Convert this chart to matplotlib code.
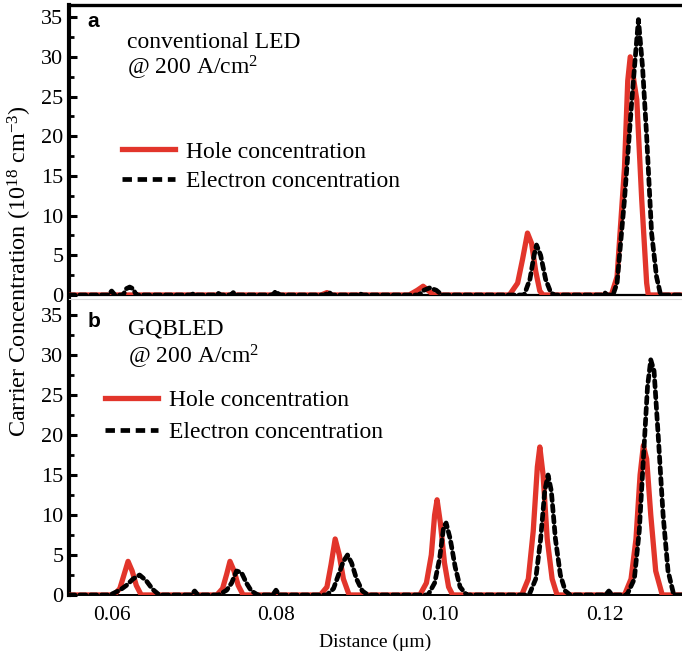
import matplotlib
matplotlib.use("Agg")
import matplotlib.pyplot as plt
from matplotlib.lines import Line2D
from matplotlib.ticker import MultipleLocator

plt.rcParams['font.family'] = ['Liberation Serif', 'DejaVu Serif']
plt.rcParams['mathtext.fontset'] = 'custom'
plt.rcParams['mathtext.rm'] = 'Liberation Serif'
plt.rcParams['mathtext.it'] = 'Liberation Serif:italic'

X_MIN, X_MAX = 0.0548, 0.1294

# (a) conventional LED
hole_a_x = [0.0548, 0.0855, 0.0862, 0.0868, 0.0962, 0.0972, 0.0979, 0.0986, 0.0992,
            0.1084, 0.1094, 0.1100, 0.1106, 0.1111, 0.1116, 0.1121, 0.1125,
            0.1208, 0.1215, 0.1224, 0.1228, 0.1231, 0.1239, 0.1245, 0.1251, 0.1253, 0.1294]
hole_a_y = [0, 0, 0.3, 0, 0, 0.6, 1.1, 0.5, 0,
            0, 1.5, 4.5, 7.8, 6.5, 3.0, 0.5, 0,
            0, 2.3, 16.0, 27.0, 30.0, 24.6, 12.0, 1.5, 0, 0]

elec_a_x = [0.0548, 0.0596, 0.0600, 0.0604, 0.0614, 0.0618, 0.0622, 0.0626, 0.0630,
            0.0697, 0.0700, 0.0703, 0.0727, 0.0730, 0.0733, 0.0745, 0.0748, 0.0751,
            0.0796, 0.0800, 0.0804, 0.0860, 0.0864, 0.0868, 0.0899, 0.0902, 0.0905,
            0.0974, 0.0980, 0.0987, 0.0995, 0.1002,
            0.1102, 0.1109, 0.1114, 0.1117, 0.1122, 0.1128, 0.1134, 0.1138,
            0.1197, 0.1200, 0.1203,
            0.1210, 0.1215, 0.1224, 0.1233, 0.1238, 0.1241, 0.1246, 0.1251, 0.1257,
            0.1263, 0.1268, 0.1294]
elec_a_y = [0, 0, 0.5, 0, 0, 0.8, 1.0, 0.8, 0,
            0, 0.2, 0, 0, 0.2, 0, 0, 0.3, 0,
            0, 0.5, 0, 0, 0.4, 0, 0, 0.2, 0,
            0, 0.6, 0.9, 0.6, 0,
            0, 2.0, 5.0, 6.3, 5.0, 2.0, 0.4, 0,
            0, 0.3, 0,
            0, 1.5, 12.0, 24.6, 31.0, 34.7, 28.7, 20.0, 7.8,
            2.3, 0, 0]

# (b) GQBLED
hole_b_x = [0.0548, 0.0603, 0.0610, 0.0615, 0.0620, 0.0625, 0.0630, 0.0636,
            0.0728, 0.0735, 0.0740, 0.0744, 0.0749, 0.0754, 0.0760,
            0.0854, 0.0862, 0.0867, 0.0872, 0.0877, 0.0882, 0.0889,
            0.0975, 0.0983, 0.0989, 0.0993, 0.0996, 0.1000, 0.1005, 0.1010, 0.1015,
            0.1099, 0.1107, 0.1113, 0.1118, 0.1121, 0.1125, 0.1130, 0.1136, 0.1142,
            0.1224, 0.1232, 0.1238, 0.1243, 0.1247, 0.1251, 0.1256, 0.1262, 0.1270,
            0.1294]
hole_b_y = [0, 0, 0.8, 2.5, 4.2, 3.0, 1.2, 0,
            0, 0.8, 2.6, 4.2, 3.0, 1.2, 0,
            0, 1.0, 3.8, 7.0, 5.0, 2.0, 0,
            0, 1.5, 5.0, 10.0, 11.9, 9.0, 4.0, 1.0, 0,
            0, 2.0, 8.0, 16.0, 18.5, 15.0, 7.0, 2.0, 0,
            0, 2.0, 7.0, 15.0, 18.7, 17.0, 10.0, 3.0, 0,
            0]

elec_b_x = [0.0548, 0.0598, 0.0610, 0.0618, 0.0626, 0.0634, 0.0642, 0.0650, 0.0658,
            0.0697, 0.0701, 0.0705,
            0.0730, 0.0740, 0.0746, 0.0752, 0.0758, 0.0764, 0.0770, 0.0778,
            0.0796, 0.0800, 0.0804,
            0.0862, 0.0870, 0.0876, 0.0882, 0.0887, 0.0892, 0.0898, 0.0905, 0.0912,
            0.0985, 0.0993, 0.0999, 0.1004, 0.1007, 0.1012, 0.1018, 0.1024, 0.1032,
            0.1108, 0.1116, 0.1122, 0.1127, 0.1131, 0.1135, 0.1140, 0.1146, 0.1152, 0.1158,
            0.1201, 0.1205, 0.1209,
            0.1227, 0.1236, 0.1242, 0.1247, 0.1252, 0.1256, 0.1260, 0.1265, 0.1271,
            0.1277, 0.1284, 0.1294]
elec_b_y = [0, 0, 0.6, 1.2, 2.0, 2.5, 1.8, 0.7, 0,
            0, 0.5, 0,
            0, 0.6, 1.5, 3.0, 2.8, 1.5, 0.5, 0,
            0, 0.6, 0,
            0, 0.8, 2.5, 4.2, 5.0, 4.0, 2.0, 0.5, 0,
            0, 1.5, 4.5, 8.5, 9.0, 7.0, 3.5, 1.0, 0,
            0, 2.0, 7.0, 13.0, 15.0, 13.0, 7.0, 2.5, 0.5, 0,
            0, 0.5, 0,
            0, 2.0, 8.0, 17.0, 26.0, 29.4, 28.0, 20.0, 10.0,
            3.0, 0, 0]

x_ticks = [0.06, 0.08, 0.10, 0.12]
x_tick_labels = ["0.06", "0.08", "0.10", "0.12"]
y_ticks = [0, 5, 10, 15, 20, 25, 30, 35]

RED = '#e2352b'
FS = 17

fig = plt.figure(figsize=(6.82, 6.57), dpi=100)
ax1 = fig.add_axes([0.101, 0.551, 0.899, 0.441])
ax2 = fig.add_axes([0.101, 0.0944, 0.899, 0.4505])


def style_axis(ax, ytop):
    ax.set_xlim(X_MIN, X_MAX)
    ax.set_ylim(0, ytop)
    ax.set_yticks(y_ticks)
    ax.yaxis.set_minor_locator(MultipleLocator(2.5))
    ax.tick_params(axis='y', which='major', direction='in', length=5.5, width=2.2,
                   labelsize=16, pad=4)
    ax.tick_params(axis='y', which='minor', direction='in', length=3.5, width=2.0)
    ax.tick_params(axis='x', length=0, labelsize=15.5, pad=8)
    ax.spines['right'].set_visible(False)
    ax.spines['left'].set_linewidth(3.0)


def draw(ax, hx, hy, ex, ey):
    ax.plot(hx, hy, color=RED, lw=3.8, solid_joinstyle='round', zorder=3)
    ax.plot(ex, ey, color='black', lw=3.4, dashes=(1.3, 1.0),
            dash_capstyle='round', zorder=4)


style_axis(ax1, 36.5)
ax1.spines['top'].set_linewidth(2.4)
ax1.spines['bottom'].set_linewidth(1.6)
ax1.set_xticks(x_ticks)
ax1.set_xticklabels([])
draw(ax1, hole_a_x, hole_a_y, elec_a_x, elec_a_y)

style_axis(ax2, 37.0)
ax2.spines['top'].set_color('#d8d8d8')
ax2.spines['top'].set_linewidth(0.8)
ax2.spines['bottom'].set_linewidth(1.4)
ax2.set_xticks(x_ticks)
ax2.set_xticklabels(x_tick_labels)
draw(ax2, hole_b_x, hole_b_y, elec_b_x, elec_b_y)

handles = [Line2D([], [], color=RED, lw=3.8),
           Line2D([], [], color='black', lw=3.4, dashes=(2.0, 1.2))]
labels = ["Hole concentration", "Electron concentration"]

ax1.text(0.03, 0.975, "a", transform=ax1.transAxes, fontsize=15,
         fontweight='bold', family='Liberation Sans', va='top', ha='left')
ax1.text(0.094, 0.872, "conventional LED", transform=ax1.transAxes, fontsize=FS,
         va='center', ha='left')
ax1.text(0.094, 0.782, "@ 200 A/cm$^2$", transform=ax1.transAxes, fontsize=FS,
         va='center', ha='left')
ax1.legend(handles, labels, loc='upper left', bbox_to_anchor=(0.0865, 0.531),
           frameon=False, fontsize=FS, handlelength=2.25, handletextpad=0.45,
           labelspacing=0.35, borderpad=0, borderaxespad=0)

ax2.text(0.03, 0.955, "b", transform=ax2.transAxes, fontsize=15,
         fontweight='bold', family='Liberation Sans', va='top', ha='left')
ax2.text(0.097, 0.90, "GQBLED", transform=ax2.transAxes, fontsize=FS,
         va='center', ha='left')
ax2.text(0.097, 0.805, "@ 200 A/cm$^2$", transform=ax2.transAxes, fontsize=FS,
         va='center', ha='left')
ax2.legend(handles, labels, loc='upper left', bbox_to_anchor=(0.0587, 0.693),
           frameon=False, fontsize=FS, handlelength=2.25, handletextpad=0.45,
           labelspacing=0.43, borderpad=0, borderaxespad=0)

ax2.set_xlabel("Distance (\u03bcm)", fontsize=14, labelpad=6)
fig.text(0.029, 0.5875, "Carrier Concentration (10$^{18}$ cm$^{-3}$)", rotation=90,
         fontsize=17.5, va='center', ha='center')

fig.savefig("out.png", dpi=100)
